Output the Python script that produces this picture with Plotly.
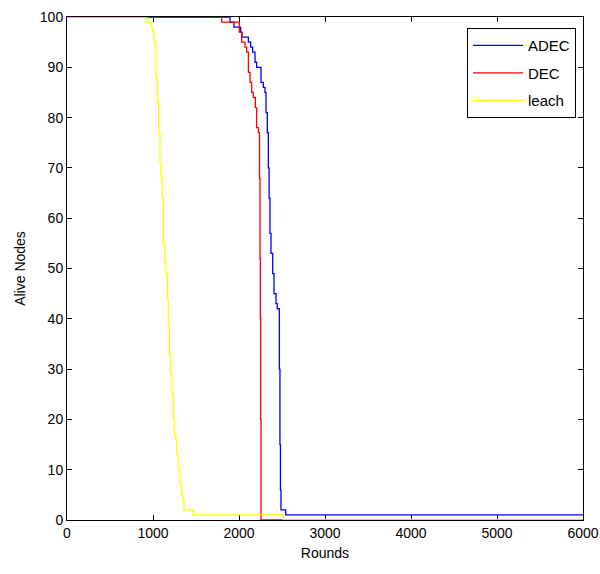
import plotly.graph_objects as go

# ---- data ----
adec_rounds = [0, 1895, 1942, 2019, 2035, 2109, 2136, 2159, 2186, 2205, 2256, 2283, 2302,
               2314, 2329, 2341, 2350, 2360, 2372, 2392, 2407, 2430, 2445, 2469, 2476,
               2482, 2488, 2543, 6000]
adec_alive = [100, 99, 98, 97, 96, 95, 94, 93, 91, 90, 87, 86, 85,
              81, 77, 70, 64, 57, 53, 49, 45, 43, 42, 30, 15,
              6, 2, 1, 1]

dec_rounds = [0, 1799, 2004, 2031, 2070, 2089, 2109, 2128, 2147, 2167, 2190, 2205, 2225,
              2238, 2244, 2248, 2252, 2256, 6000]
dec_alive = [100, 99, 97, 95, 94, 93, 89, 87, 85, 84, 82, 78, 77,
             68, 52, 40, 20, 0, 0]

leach_rounds = [0, 926, 977, 996, 1012, 1035, 1050, 1066, 1081, 1093, 1108, 1120, 1135,
                1147, 1167, 1178, 1190, 1205, 1221, 1236, 1248, 1264, 1275, 1294, 1314,
                1333, 1345, 1360, 1469, 2516, 6000]
leach_alive = [100, 99, 98, 97, 95, 88, 83, 77, 71, 68, 64, 55, 52,
               49, 44, 39, 33, 29, 25, 20, 17, 16, 13, 10, 7,
               5, 4, 2, 1, 0, 0]

x_ticks = [0, 1000, 2000, 3000, 4000, 5000, 6000]
y_ticks = [0, 10, 20, 30, 40, 50, 60, 70, 80, 90, 100]

FONT = "Liberation Sans, Arial, sans-serif"

fig = go.Figure()
series = [
    ("ADEC", adec_rounds, adec_alive, "#0000ff"),
    ("DEC", dec_rounds, dec_alive, "#ff0000"),
    ("leach", leach_rounds, leach_alive, "#ffff00"),
]
for name, xs, ys, col in series:
    fig.add_trace(go.Scatter(
        x=xs, y=ys, mode="lines", name=name, legendgroup=name,
        line=dict(color=col, width=1.3, shape="hv"),
    ))

axis_common = dict(
    showline=True, linecolor="black", linewidth=1, mirror="ticks",
    ticks="inside", ticklen=5, tickcolor="black", tickwidth=1,
    showgrid=False, zeroline=False, automargin=False,
    tickfont=dict(family=FONT, size=14, color="black"),
    layer="below traces",
)

fig.update_layout(
    width=600, height=574,
    margin=dict(l=67, r=17, t=17, b=54),
    paper_bgcolor="white", plot_bgcolor="white",
    font=dict(family=FONT, size=14, color="black"),
    showlegend=True,
    legend=dict(
        x=0.9864, y=0.978, xanchor="right", yanchor="top",
        bgcolor="white", bordercolor="black", borderwidth=1,
        font=dict(family=FONT, size=15, color="black"),
        tracegroupgap=5, itemwidth=50,
    ),
)
fig.update_xaxes(range=[0, 6000], tickvals=x_ticks,
                 title=dict(text="Rounds", font=dict(family=FONT, size=14), standoff=8),
                 **axis_common)
fig.update_yaxes(range=[0, 100], tickvals=y_ticks,
                 title=dict(text="Alive Nodes", font=dict(family=FONT, size=14), standoff=10),
                 **axis_common)

fig.write_html("out.html")
